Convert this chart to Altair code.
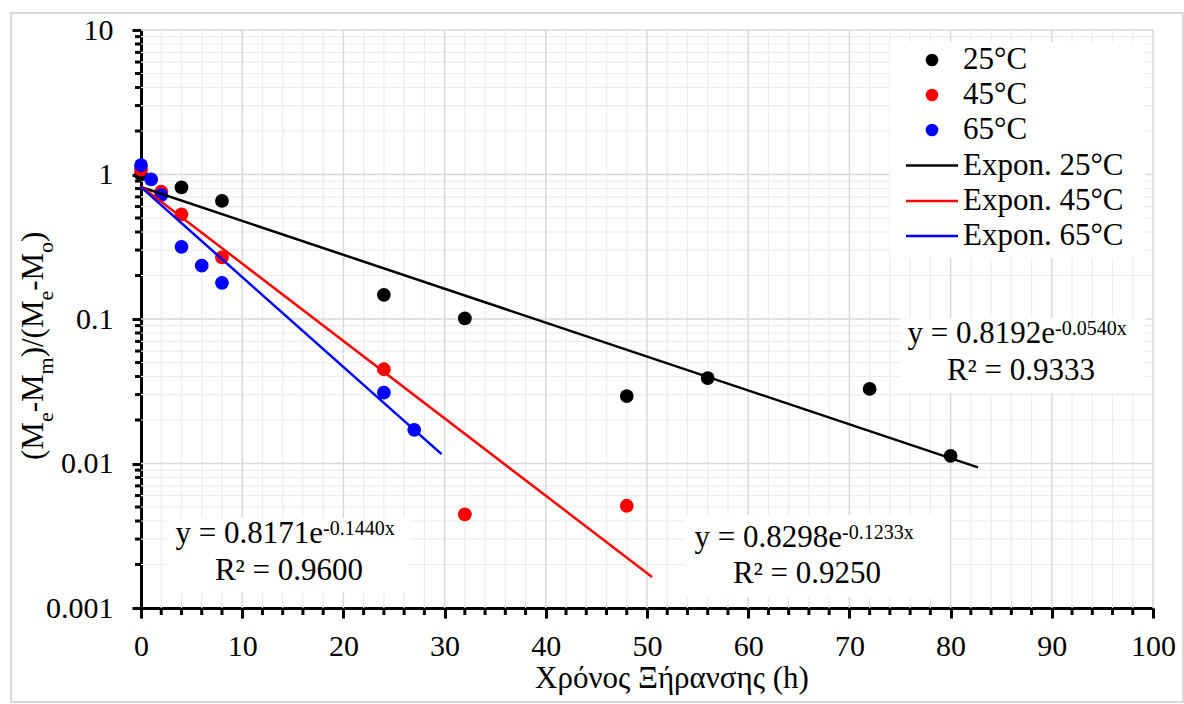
import altair as alt
import pandas as pd

# ---------------- data ----------------
series = ["25°C", "45°C", "65°C"]
colors = ["#000000", "#ff0000", "#0000ff"]

t_25 = [0, 4, 8, 24, 32, 48, 56, 72, 80]
y_25 = [1.0, 0.815, 0.656, 0.147, 0.101, 0.0293, 0.039, 0.0328, 0.0113]
t_45 = [0, 2, 4, 8, 24, 32, 48]
y_45 = [1.08, 0.76, 0.53, 0.267, 0.0449, 0.00445, 0.0051]
t_65 = [0, 1, 2, 4, 6, 8, 24, 27]
y_65 = [1.16, 0.926, 0.72, 0.316, 0.234, 0.178, 0.0309, 0.0171]

# exponential trend lines (start / end)
trend_t = [[0, 82.7], [0, 50.5], [0, 29.7]]
trend_y = [[0.8192, 0.0094], [0.8298, 0.00164], [0.8171, 0.0116]]

eq_main = ["y = 0.8192e", "y = 0.8298e", "y = 0.8171e"]
eq_sup = ["-0.0540x", "-0.1233x", "-0.1440x"]
eq_r2 = ["R² = 0.9333", "R² = 0.9250", "R² = 0.9600"]

x_ticks = list(range(0, 101, 10))
y_ticks = [0.001, 0.01, 0.1, 1, 10]
x_minor = [v for v in range(2, 100, 2) if v % 10 != 0]
y_minor = [m * 10.0 ** k for k in range(-3, 1) for m in range(2, 10)]

x_title = "Χρόνος Ξήρανσης (h)"

# ---------------- layout ----------------
L, T, W, H = 141, 30, 1012, 578
FONT = "Liberation Serif"

pts = pd.DataFrame({
    "t": t_25 + t_45 + t_65,
    "y": y_25 + y_45 + y_65,
    "s": [series[0]] * len(t_25) + [series[1]] * len(t_45) + [series[2]] * len(t_65),
})
pts["o"] = range(len(pts))

tr_rows = []
for name, ts, ys in zip(series, trend_t, trend_y):
    for tt, yy in zip(ts, ys):
        tr_rows.append({"t": tt, "y": yy, "s": name})
trend = pd.DataFrame(tr_rows)

xs = alt.Scale(domain=[0, 100], nice=False, zero=False)
ys_ = alt.Scale(type="log", domain=[0.001, 10], nice=False)
cs = alt.Scale(domain=series, range=colors)

xaxis = alt.Axis(values=x_ticks, tickSize=10, tickWidth=3, tickColor="black",
                 domainColor="black", domainWidth=3, labelFont=FONT, labelFontSize=30,
                 labelColor="black", labelPadding=13, grid=False, title=None,
                 labelFlush=False, labelOverlap=False)
yaxis = alt.Axis(values=y_ticks, format="~g", tickSize=9, tickWidth=3, tickColor="black",
                 domainColor="black", domainWidth=3, labelFont=FONT, labelFontSize=30,
                 labelColor="black", labelPadding=19, grid=False, title=None,
                 labelFlush=False, labelOverlap=False)

X = lambda: alt.X("t:Q", scale=xs, axis=xaxis)
Y = lambda: alt.Y("y:Q", scale=ys_, axis=yaxis)


def one():
    return pd.DataFrame({"k": [0]})


def px(v):
    return alt.value(v - L)


def py(v):
    return alt.value(v - T)


def text(s, x, y, size=31, align="left", baseline="middle", angle=0):
    kw = dict(font=FONT, fontSize=size, align=align, baseline=baseline, color="black")
    if angle:
        kw["angle"] = angle
    return alt.Chart(pd.DataFrame({"txt": [s]})).mark_text(**kw).encode(
        x=px(x), y=py(y), text="txt:N")


def box(x1, y1, x2, y2, **kw):
    return alt.Chart(one()).mark_rect(**kw).encode(x=px(x1), x2=px(x2), y=py(y1), y2=py(y2))


layers = []

# outer border
layers.append(box(11, 13, 1183, 702, fillOpacity=0, stroke="#d9d9d9", strokeWidth=2))

# grid lines
gx_minor = pd.DataFrame({"t": x_minor})
gy_minor = pd.DataFrame({"y": y_minor})
gx_major = pd.DataFrame({"t": [v for v in x_ticks if v != 0]})
gy_major = pd.DataFrame({"y": [v for v in y_ticks if v != 0.001]})
layers.append(alt.Chart(gx_minor).mark_rule(color="#ececec", strokeWidth=1.2).encode(
    x=X(), y=alt.value(0), y2=alt.value(H)))
layers.append(alt.Chart(gy_minor).mark_rule(color="#ececec", strokeWidth=1.2).encode(
    y=Y(), x=alt.value(0), x2=alt.value(W)))
layers.append(alt.Chart(gx_major).mark_rule(color="#d9d9d9", strokeWidth=1.5).encode(
    x=X(), y=alt.value(0), y2=alt.value(H)))
layers.append(alt.Chart(gy_major).mark_rule(color="#d9d9d9", strokeWidth=1.5).encode(
    y=Y(), x=alt.value(0), x2=alt.value(W)))

# minor ticks outside the axes
layers.append(alt.Chart(gx_minor).mark_rule(color="black", strokeWidth=3).encode(
    x=X(), y=alt.value(H), y2=alt.value(H + 7)))
layers.append(alt.Chart(gy_minor).mark_rule(color="black", strokeWidth=3).encode(
    y=Y(), x=alt.value(-6), x2=alt.value(0)))

# white label boxes
layers.append(box(890, 42, 1145, 258, color="white"))
layers.append(box(900, 318, 1145, 393, color="white"))
layers.append(box(685, 515, 950, 597, color="white"))
layers.append(box(167, 518, 410, 592, color="white"))

# data points
layers.append(alt.Chart(pts).mark_circle(size=190, opacity=1).encode(
    x=X(), y=Y(),
    color=alt.Color("s:N", scale=cs, legend=None),
    order=alt.Order("o:Q")))

# trend lines
layers.append(alt.Chart(trend).mark_line(strokeWidth=2.5).encode(
    x=X(), y=Y(), color=alt.Color("s:N", scale=cs, legend=None), detail="s:N"))

# equations
eq_pos = [  # (x of end of 'e', y main, x centre R2, y R2)
    (1055, 334, 1021, 371),
    (842, 538, 807, 574),
    (323, 534, 289, 571),
]
for (xe, ym, xr, yr), m, s, r in zip(eq_pos, eq_main, eq_sup, eq_r2):
    layers.append(text(m, xe, ym, align="right"))
    layers.append(text(s, xe, ym - 5, size=20, align="left"))
    layers.append(text(r, xr, yr, align="center"))

# legend
leg_y = [60, 95, 130, 165.5, 201, 236]
for i, (name, col) in enumerate(zip(series, colors)):
    layers.append(alt.Chart(one()).mark_circle(size=160, opacity=1, color=col).encode(
        x=px(932), y=py(leg_y[i])))
    layers.append(text(name, 963, leg_y[i]))
for i, (name, col) in enumerate(zip(series, colors)):
    yy = leg_y[3 + i]
    layers.append(alt.Chart(one()).mark_rule(color=col, strokeWidth=2.5).encode(
        x=px(906), x2=px(958), y=py(yy)))
    layers.append(text("Expon. " + name, 963, yy))

# x-axis title
layers.append(text(x_title, 672, 679, align="center"))

# y-axis title with subscripts (rotated, reading bottom to top)
MAIN, SUB = 31, 22
w = {"(": 0.333, ")": 0.333, "M": 0.889, "-": 0.333, "/": 0.278,
     "e": 0.444, "m": 0.778, "o": 0.5}
pieces = [("(M", False), ("e", True), ("-M", False), ("m", True),
          (")/(M", False), ("e", True), ("-M", False), ("o", True), (")", False)]
ycur = 460
for s, sub in pieces:
    size = SUB if sub else MAIN
    xb = 53 if sub else 43
    layers.append(text(s, xb, ycur, size=size, align="left", baseline="alphabetic", angle=270))
    ycur -= sum(w[c] for c in s) * size

chart = alt.layer(*layers).properties(
    width=W, height=H,
    autosize=alt.AutoSizeParams(type="none"),
    padding={"left": L, "top": T, "right": 1184 - L - W, "bottom": 704 - T - H},
    background="white",
).configure(font=FONT).configure_view(stroke=None).configure_axis(
    labelFont=FONT, titleFont=FONT).configure_text(font=FONT)

chart.save("out.html", embed_options={"renderer": "svg", "actions": False})
